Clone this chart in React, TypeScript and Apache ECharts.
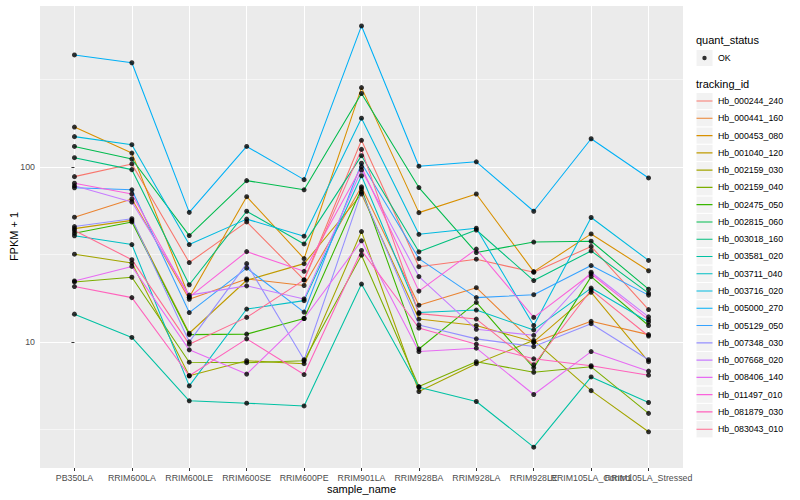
import React, { useEffect, useRef } from "react";
import * as echarts from "echarts";

const categories = [
  "PB350LA", "RRIM600LA", "RRIM600LE", "RRIM600SE", "RRIM600PE", "RRIM901LA",
  "RRIM928BA", "RRIM928LA", "RRIM928LE", "RRIM105LA_Control", "RRIM105LA_Stressed",
];

const trackingIds = [
  "Hb_000244_240", "Hb_000441_160", "Hb_000453_080", "Hb_001040_120", "Hb_002159_030",
  "Hb_002159_040", "Hb_002475_050", "Hb_002815_060", "Hb_003018_160", "Hb_003581_020",
  "Hb_003711_040", "Hb_003716_020", "Hb_005000_270", "Hb_005129_050", "Hb_007348_030",
  "Hb_007668_020", "Hb_008406_140", "Hb_011497_010", "Hb_081879_030", "Hb_083043_010",
];

const hb000244_240 = [88, 104, 28.4, 48.5, 22.6, 142, 26.9, 29.7, 25, 35.1, 15.3];
const hb000441_160 = [51.6, 65.6, 17.5, 22.9, 21, 77, 16.2, 20.4, 9.9, 13.1, 11];
const hb000453_080 = [169, 120, 18, 67.6, 29.9, 284, 54.8, 70, 25.2, 41.4, 25.5];
const hb001040_120 = [44.4, 49.5, 11.2, 22.5, 28, 70, 13.5, 12.4, 10, 19.2, 7.7];
const hb002159_030 = [31.7, 28.2, 6.4, 7.8, 7.5, 42.7, 5.2, 7.5, 10.2, 5.26, 3.06];
const hb002159_040 = [22, 23.4, 7.65, 7.6, 7.8, 31.3, 5.55, 7.7, 6.7, 7.2, 3.9];
const hb002475_050 = [41.8, 48.5, 11, 11.07, 13.6, 75, 9.1, 16.8, 7.1, 23.6, 12.4];
const hb002815_060 = [131, 111, 40.5, 83.5, 74, 263, 76.2, 32.4, 37.2, 37.6, 20];
const hb003018_160 = [113, 96.5, 21.2, 55.8, 36.3, 116, 32.7, 43.6, 22.4, 33.1, 19];
const hb003581_020 = [14.4, 10.6, 4.6, 4.46, 4.3, 21.4, 5.5, 4.56, 2.5, 6.3, 4.5];
const hb003711_040 = [40.4, 36, 5.6, 15.4, 17.2, 89, 14.7, 15.2, 11.7, 20.3, 13];
const hb003716_020 = [149, 134, 36, 50.3, 40.2, 190, 41.2, 44.6, 12.4, 51.4, 29.2];
const hb005000_270 = [437, 394, 55, 131, 84.6, 640, 101, 107, 55.8, 145, 86.5];
const hb005129_050 = [76, 74, 14.7, 26.4, 14.8, 105, 29.9, 17.9, 18.6, 27.3, 18.5];
const hb007348_030 = [45.6, 50.6, 10, 28, 7.9, 72, 12.5, 10.4, 9.4, 12.7, 7.9];
const hb007668_020 = [78, 63, 18.5, 20.9, 17.6, 96, 23.6, 11.8, 10.9, 25, 13.9];
const hb008406_140 = [22.3, 27, 9, 6.54, 13.6, 37.8, 8.8, 9.2, 5.0, 8.8, 6.8];
const hb011497_010 = [80.7, 70, 18, 32.8, 25.3, 100, 19.5, 33.9, 13.8, 24.5, 13.4];
const hb081879_030 = [20.7, 17.9, 6.4, 10.4, 6.5, 33.3, 12, 9.7, 8, 7.3, 6.45];
const hb083043_010 = [43.3, 29.5, 9.7, 13.8, 22.6, 126, 14.5, 13.5, 7.4, 19.8, 10.8];

const seriesValues = [
  hb000244_240, hb000441_160, hb000453_080, hb001040_120, hb002159_030,
  hb002159_040, hb002475_050, hb002815_060, hb003018_160, hb003581_020,
  hb003711_040, hb003716_020, hb005000_270, hb005129_050, hb007348_030,
  hb007668_020, hb008406_140, hb011497_010, hb081879_030, hb083043_010,
];

const hueColors = [
  "#F8766D", "#EA8331", "#D89000", "#C09B00", "#A3A500", "#7CAE00", "#39B600",
  "#00BB4E", "#00BF7D", "#00C1A3", "#00BFC4", "#00BAE0", "#00B0F6", "#35A2FF",
  "#9590FF", "#C77CFF", "#E76BF3", "#FA62DB", "#FF62BC", "#FF6C91",
];

const majorTicks = [10, 100];
const minorTicks = [3.1623, 31.623, 316.23];
const yMin = 1.9;
const yMax = 843;

const FONT = "'Liberation Sans', Arial, Helvetica, sans-serif";

const App: React.FC = () => {
  const ref = useRef<HTMLDivElement>(null);

  useEffect(() => {
    if (!ref.current) return;
    const chart = echarts.init(ref.current, undefined, { renderer: "svg" });
    const catIdx = categories.map((_, i) => i);
    const evenIdx = catIdx.filter((i) => i % 2 === 0);
    const oddIdx = catIdx.filter((i) => i % 2 === 1);

    const lineSeries = trackingIds.map((id, s) => ({
      name: id,
      type: "line",
      color: hueColors[s],
      xAxisIndex: 0,
      data: seriesValues[s].map((v, i) => [i, v]),
      showSymbol: false,
      symbol: "none",
      lineStyle: { color: hueColors[s], width: 1.07 },
      itemStyle: { color: hueColors[s] },
      emphasis: { disabled: true },
      silent: true,
      z: 2,
    }));

    const pointData: number[][] = [];
    seriesValues.forEach((vals) => vals.forEach((v, i) => pointData.push([i, v])));

    const keyTop = 92.5;
    const keyStep = 17.27;
    const keyLeft = 696;

    const graphics: any[] = [
      {
        type: "text",
        left: keyLeft,
        top: 34,
        style: { text: "quant_status", fontSize: 11, fontFamily: FONT, fill: "#000" },
      },
      {
        type: "text",
        left: keyLeft,
        top: 78,
        style: { text: "tracking_id", fontSize: 11, fontFamily: FONT, fill: "#000" },
      },
      {
        type: "rect",
        shape: { x: keyLeft, y: 49.5, width: 17, height: 17 },
        style: { fill: "#F2F2F2", stroke: "#FFFFFF", lineWidth: 1 },
        z: 0,
      },
      ...trackingIds.map((_, i) => ({
        type: "rect",
        shape: { x: keyLeft, y: keyTop + i * keyStep, width: 17, height: keyStep },
        style: { fill: "#F2F2F2", stroke: "#FFFFFF", lineWidth: 1 },
        z: 0,
      })),
    ];

    const makeXAxis = (idx: number[], withName: boolean) => ({
      type: "value",
      gridIndex: 0,
      position: "bottom",
      offset: 0,
      min: -0.6,
      max: 10.6,
      name: withName ? "sample_name" : "",
      nameLocation: "middle",
      nameGap: 15,
      nameMoveOverlap: false,
      nameTextStyle: { fontSize: 11, color: "#000", fontFamily: FONT },
      axisLine: { show: false },
      axisTick: {
        show: true,
        customValues: idx,
        length: 3,
        lineStyle: { color: "#333333", width: 1 },
      },
      axisLabel: {
        customValues: idx,
        formatter: (v: number) => categories[Math.round(v)] ?? "",
        fontSize: 8.8,
        color: "#4D4D4D",
        fontFamily: FONT,
        margin: 5,
        hideOverlap: false,
        showMinLabel: true,
        showMaxLabel: true,
      },
      splitLine: { show: true, lineStyle: { color: "#FFFFFF", width: 1.07 } },
    });

    const option: any = {
      animation: false,
      backgroundColor: "#FFFFFF",
      textStyle: { fontFamily: FONT },
      grid: {
        left: 40,
        right: 117,
        top: 5,
        bottom: 32,
        show: true,
        backgroundColor: "#EBEBEB",
        borderWidth: 0,
        containLabel: false,
      },
      xAxis: [makeXAxis(evenIdx, true), makeXAxis(oddIdx, false)],
      yAxis: {
        type: "log",
        logBase: 10,
        min: yMin,
        max: yMax,
        name: "FPKM + 1",
        nameLocation: "middle",
        nameGap: 21,
        nameMoveOverlap: false,
        nameTextStyle: { fontSize: 11, color: "#000", fontFamily: FONT },
        axisLine: { show: false },
        axisTick: { show: true, length: 3, lineStyle: { color: "#333333", width: 1 } },
        axisLabel: {
          formatter: (v: number) =>
            majorTicks.some((t) => Math.abs(v - t) < 1e-6) ? String(v) : "",
          fontSize: 8.8,
          color: "#4D4D4D",
          fontFamily: FONT,
          margin: 5,
          showMinLabel: false,
          showMaxLabel: false,
        },
        splitLine: { show: true, lineStyle: { color: "#FFFFFF", width: 1.07 } },
      },
      legend: [
        {
          left: keyLeft,
          top: 49.5,
          orient: "vertical",
          padding: 0,
          itemWidth: 17,
          itemHeight: 17,
          itemGap: 0,
          selectedMode: false,
          data: [{ name: "OK" }],
          icon: "path://M0,0 L0.01,0 M17,17 L16.99,17 M6.3,8.5 A2.2,2.2 0 1 1 10.7,8.5 A2.2,2.2 0 1 1 6.3,8.5 Z",
          itemStyle: { borderWidth: 0 },
          textStyle: { fontSize: 8.8, color: "#000", fontFamily: FONT },
        },
        {
          left: keyLeft,
          top: keyTop,
          orient: "vertical",
          padding: 0,
          itemWidth: 17,
          itemHeight: 17,
          itemGap: keyStep - 17,
          selectedMode: false,
          data: trackingIds,
          icon: "path://M0,0 L0.01,0 M17,17 L16.99,17 M0.5,8 L16.5,8 L16.5,9.1 L0.5,9.1 Z",
          itemStyle: { borderWidth: 0 },
          textStyle: { fontSize: 8.8, color: "#000", fontFamily: FONT },
        },
      ],
      graphic: graphics,
      series: [
        {
          name: "_minorGrid",
          type: "line",
          xAxisIndex: 0,
          data: [[0, 10]],
          showSymbol: false,
          symbol: "none",
          lineStyle: { opacity: 0 },
          silent: true,
          z: 1,
          markLine: {
            silent: true,
            z: 1,
            symbol: "none",
            label: { show: false },
            lineStyle: { color: "#FFFFFF", width: 0.55, type: "solid" },
            emphasis: { disabled: true },
            data: minorTicks.map((t) => ({ yAxis: t })),
          },
        },
        ...lineSeries,
        {
          name: "OK",
          type: "scatter",
          xAxisIndex: 0,
          data: pointData,
          symbol: "circle",
          symbolSize: 5,
          itemStyle: { color: "#000000" },
          silent: true,
          z: 3,
        },
      ],
    };

    chart.setOption(option);
    return () => chart.dispose();
  }, []);

  return (
    <div
      ref={ref}
      style={{ position: "absolute", left: 0, top: 0, width: 800, height: 500 }}
    />
  );
};

export default App;
